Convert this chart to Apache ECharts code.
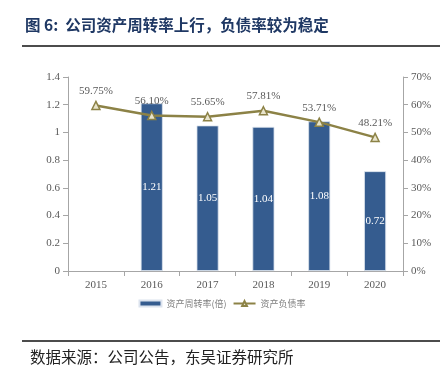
<!DOCTYPE html>
<html><head><meta charset="utf-8">
<script src="https://cdn.jsdelivr.net/npm/echarts@6/dist/echarts.min.js"></script>
<style>html,body{margin:0;padding:0;background:#fff}#c{width:444px;height:382px}</style>
</head><body><div id="c"></div>
<script>
const titleText = '图 6:  公司资产周转率上行，负债率较为稳定';
const sourceText = '数据来源：公司公告，东吴证券研究所';
const categories = ['2015','2016','2017','2018','2019','2020'];
const turnover = [null, 1.21, 1.05, 1.04, 1.08, 0.72];
const debtRatio = [59.75, 56.10, 55.65, 57.81, 53.71, 48.21];
const leftTicks = [0, 0.2, 0.4, 0.6, 0.8, 1, 1.2, 1.4];
const rightTicks = [0, 10, 20, 30, 40, 50, 60, 70];
const seriesNames = ['资产周转率(倍)', '资产负债率'];

const barColor = '#355C8F';
const lineColor = '#8C8246';
const axisText = '#595959';
const serif = '"Liberation Serif","Times New Roman",serif';

const chart = echarts.init(document.getElementById('c'), null, {renderer:'canvas'});
chart.setOption({
  animation:false,
  backgroundColor:'#fff',
  title:{
    text:titleText, left:20, top:12,
    textStyle:{fontFamily:'"Noto Sans CJK SC"', fontSize:15.5, fontWeight:'bold', color:'#1F3864'}
  },
  graphic:[
    {type:'line', shape:{x1:22,y1:46,x2:440,y2:46}, style:{stroke:'#111',lineWidth:1.5}},
    {type:'line', shape:{x1:22,y1:341,x2:440,y2:341}, style:{stroke:'#111',lineWidth:1.5}},
    {type:'text', left:30, top:349, style:{text:sourceText, font:'15.5px "Noto Sans CJK SC"', fill:'#222'}}
  ],
  grid:{left:68, right:41, top:77, bottom:111},
  legend:{
    bottom:69, left:'center', itemWidth:22, itemHeight:6, itemGap:6,
    textStyle:{fontFamily:'"Noto Sans CJK SC"', fontSize:9, color:'#7F7F7F'},
    data:[{name:seriesNames[0], icon:'rect'}, {name:seriesNames[1]}]
  },
  xAxis:{
    type:'category', data:categories,
    axisLine:{lineStyle:{color:'#A6A6A6'}},
    axisTick:{show:true, alignWithLabel:false, lineStyle:{color:'#A6A6A6'}},
    axisLabel:{fontFamily:serif, fontSize:11, color:axisText, margin:9}
  },
  yAxis:[
    {type:'value', min:0, max:1.4, interval:0.2,
     axisLine:{show:true, lineStyle:{color:'#A6A6A6'}},
     axisTick:{show:true, lineStyle:{color:'#A6A6A6'}},
     splitLine:{show:false},
     axisLabel:{fontFamily:serif, fontSize:11, color:axisText, margin:8,
       formatter:v=>{const t=leftTicks.find(x=>Math.abs(x-v)<1e-9);return t===undefined?'':String(t);}}},
    {type:'value', min:0, max:70, interval:10, position:'right',
     axisLine:{show:true, lineStyle:{color:'#A6A6A6'}},
     axisTick:{show:true, lineStyle:{color:'#A6A6A6'}},
     splitLine:{show:false},
     axisLabel:{fontFamily:serif, fontSize:11, color:axisText, margin:8,
       formatter:v=>{const t=rightTicks.find(x=>Math.abs(x-v)<1e-9);return t===undefined?'':t+'%';}}}
  ],
  series:[
    {name:seriesNames[0], type:'bar', data:turnover, barWidth:22, yAxisIndex:0,
     itemStyle:{color:barColor, borderColor:'#DCE3EE', borderWidth:0.8},
     label:{show:true, position:'inside', color:'#fff', fontFamily:serif, fontSize:11,
       formatter:p=>p.value==null?'':p.value.toFixed(2)}},
    {name:seriesNames[1], type:'line', data:debtRatio, yAxisIndex:1,
     symbol:'triangle', symbolSize:8, showAllSymbol:true,
     lineStyle:{color:lineColor, width:2.5},
     itemStyle:{color:'#E8E4CC', borderColor:lineColor, borderWidth:1.5},
     label:{show:true, position:'top', distance:4, color:axisText, fontFamily:serif, fontSize:11,
       formatter:p=>p.value.toFixed(2)+'%'}}
  ]
});
</script></body></html>
